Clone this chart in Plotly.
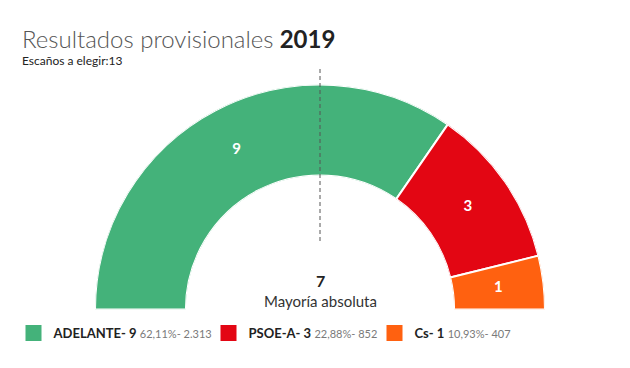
import plotly.graph_objects as go
import numpy as np

parties = ["ADELANTE", "PSOE-A", "Cs"]
seats = [9, 3, 1]
pcts = ["62,11%", "22,88%", "10,93%"]
votes = ["2.313", "852", "407"]
colors = ["#44B27A", "#E30613", "#FF6110"]
total_seats = 13
majority = 7
year = "2019"

deg_per_seat = 180.0 / total_seats
cum = np.cumsum([0] + seats[:-1])
theta_c = [(c + s / 2) * deg_per_seat for c, s in zip(cum, seats)]
widths = [s * deg_per_seat for s in seats]

W, H = 630, 368
legend_ids = ["legend", "legend2", "legend3"]
legend_x_px = [13.5, 208.5, 374.5]

fig = go.Figure()
for i, p in enumerate(parties):
    fig.add_trace(go.Barpolar(
        r=[1], theta=[theta_c[i]], width=[widths[i]], base=0,
        marker=dict(color=colors[i], line=dict(color="white", width=2)),
        showlegend=False, hoverinfo="skip"))
fig.add_trace(go.Scatterpolar(
    r=[0.5] * len(seats), theta=theta_c, mode="text",
    text=[str(s) for s in seats],
    textfont=dict(family="Lato", size=15, color="white", weight="bold"),
    showlegend=False, hoverinfo="skip"))

# legend entries
for i, p in enumerate(parties):
    fig.add_trace(go.Scatter(
        x=[None], y=[None], mode="markers",
        marker=dict(symbol="square", size=16, color=colors[i]),
        legend=legend_ids[i],
        name=f"<b>{p}- {seats[i]}</b> <span style='font-size:11px;color:#7a7a7a'>{pcts[i]}- {votes[i]}</span>",
    ))

legend_common = dict(orientation="h", y=(H - 333) / H, yanchor="middle",
                     xanchor="left", font=dict(family="Lato", size=13, color="#222"),
                     itemclick=False, bgcolor="rgba(0,0,0,0)")

fig.update_layout(
    width=W, height=H,
    margin=dict(l=0, r=0, t=0, b=0),
    paper_bgcolor="white", plot_bgcolor="white",
    font=dict(family="Lato", color="#222"),
    xaxis=dict(visible=False), yaxis=dict(visible=False),
    polar=dict(
        domain=dict(x=[95 / W, 545 / W], y=[(H - 310) / H, (H - 84) / H]),
        sector=[0, 180], hole=0.596, bgcolor="rgba(0,0,0,0)",
        angularaxis=dict(visible=False, rotation=180, direction="clockwise"),
        radialaxis=dict(visible=False, range=[0, 1]),
        barmode="overlay",
    ),
    showlegend=True,
    legend=dict(x=legend_x_px[0] / W, **legend_common),
    legend2=dict(x=legend_x_px[1] / W, **legend_common),
    legend3=dict(x=legend_x_px[2] / W, **legend_common),
    annotations=[
        dict(text=f"<span style='color:#555;font-weight:300'>Resultados provisionales</span> <b>{year}</b>",
             x=20 / W, y=(H - 55) / H, xref="paper", yref="paper",
             xanchor="left", yanchor="bottom", showarrow=False,
             font=dict(family="Lato", size=24, color="#222")),
        dict(text=f"Escaños a elegir:{total_seats}",
             x=20 / W, y=(H - 70) / H, xref="paper", yref="paper",
             xanchor="left", yanchor="bottom", showarrow=False,
             font=dict(family="Lato", size=12, color="#222")),
        dict(text=f"<b>{majority}</b>", x=320 / W, y=(H - 291) / H,
             xref="paper", yref="paper", xanchor="center", yanchor="bottom",
             borderpad=0, showarrow=False,
             font=dict(family="Lato", size=16, color="#222")),
        dict(text="Mayoría absoluta", x=320 / W, y=(H - 291) / H,
             xref="paper", yref="paper", xanchor="center", yanchor="top",
             borderpad=0, showarrow=False,
             font=dict(family="Lato", size=15, color="#333")),
    ],
    shapes=[dict(type="line", xref="paper", yref="paper",
                 x0=320 / W, x1=320 / W, y0=(H - 69) / H, y1=(H - 243) / H,
                 line=dict(color="#555", width=1, dash="4px,3px"), layer="above")],
)

fig.write_html("out.html", config={"displayModeBar": False},
               post_script="document.body.style.margin='0';")
